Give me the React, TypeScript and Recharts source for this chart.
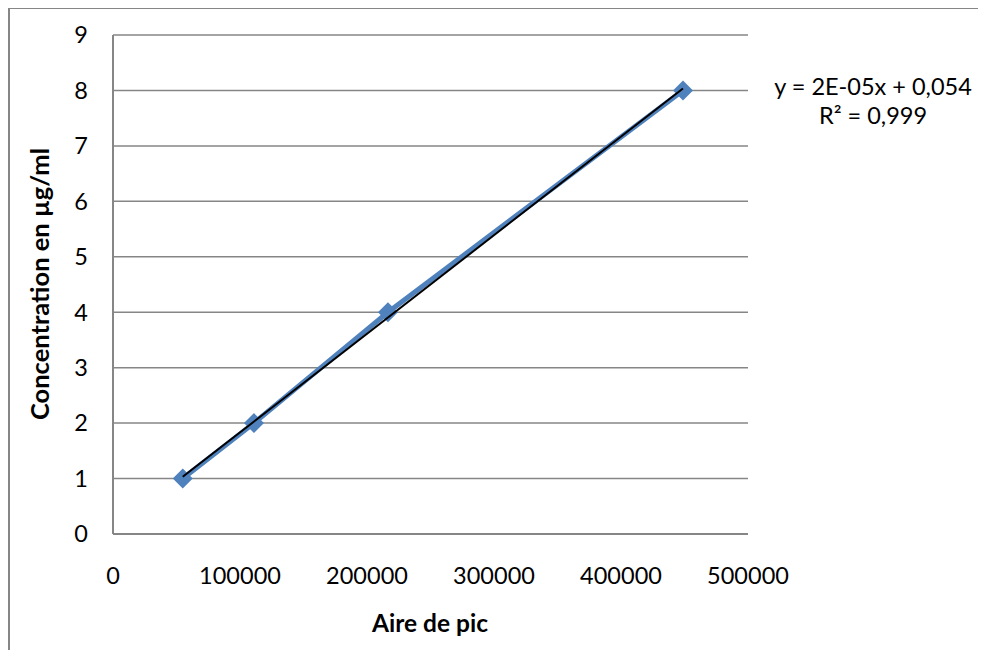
import React from "react";
import {
  ScatterChart,
  Scatter,
  XAxis,
  YAxis,
  CartesianGrid,
} from "recharts";

// points
const aireDePic = [54900, 111000, 216500, 448800];
const concentration = [1, 2, 4, 8];
const xTicks = [0, 100000, 200000, 300000, 400000, 500000];
const yTicks = [0, 1, 2, 3, 4, 5, 6, 7, 8, 9];
const equation = "y = 2E-05x + 0,054";
const rSquared = "R² = 0,999";

const FONT = "Lato, 'Open Sans', sans-serif";
const GRID = "#868686";
const BLUE = "#4F81BD";

const points = aireDePic.map((x, i) => ({ x, y: concentration[i] }));

// linear trendline (least squares), drawn over data range like Excel
function fitLine(xs: number[], ys: number[]) {
  const n = xs.length;
  const mx = xs.reduce((a, b) => a + b, 0) / n;
  const my = ys.reduce((a, b) => a + b, 0) / n;
  let sxy = 0;
  let sxx = 0;
  xs.forEach((x, i) => {
    sxy += (x - mx) * (ys[i] - my);
    sxx += (x - mx) * (x - mx);
  });
  const slope = sxy / sxx;
  const b = my - slope * mx;
  const x0 = Math.min(...xs);
  const x1 = Math.max(...xs);
  return [
    { x: x0, y: slope * x0 + b },
    { x: x1, y: slope * x1 + b },
  ];
}
const trend = fitLine(aireDePic, concentration);

const Diamond = (props: any) => {
  const { cx, cy } = props;
  const r = 10;
  return (
    <path
      d={`M${cx},${cy - r} L${cx + r},${cy} L${cx},${cy + r} L${cx - r},${cy} Z`}
      fill={BLUE}
    />
  );
};

const tickStyle = { fontFamily: FONT, fontSize: 23.5, fill: "#000" };

export default function App() {
  return (
    <div
      style={{
        position: "relative",
        width: 978,
        height: 642,
        overflow: "hidden",
        background: "#fff",
      }}
    >
      <div
        style={{
          position: "absolute",
          left: 0,
          top: -1,
          width: 2000,
          height: 2000,
          borderTop: `2px solid ${GRID}`,
          borderLeft: `2px solid ${GRID}`,
        }}
      />
      <ScatterChart
        width={978}
        height={642}
        margin={{ top: 27, right: 238, left: 0, bottom: 0 }}
      >
        <CartesianGrid
          vertical={false}
          stroke={GRID}
          strokeWidth={1.5}
        />
        <XAxis
          type="number"
          dataKey="x"
          domain={[0, 500000]}
          ticks={xTicks}
          interval={0}
          height={116}
          tickLine={false}
          tickSize={0}
          tickMargin={33}
          axisLine={{ stroke: GRID, strokeWidth: 2 }}
          tick={tickStyle}
          label={{
            content: () => (
              <text
                x={422}
                y={624}
                textAnchor="middle"
                style={{ fontFamily: FONT, fontSize: 24.5, fontWeight: 700 }}
              >
                Aire de pic
              </text>
            ),
          }}
        />
        <YAxis
          type="number"
          dataKey="y"
          domain={[0, 9]}
          ticks={yTicks}
          interval={0}
          width={105}
          tickLine={false}
          tickSize={0}
          tickMargin={25}
          axisLine={{ stroke: GRID, strokeWidth: 2 }}
          tick={tickStyle}
          label={{
            content: () => (
              <text
                x={31}
                y={276}
                transform="rotate(-90 31 276)"
                textAnchor="middle"
                dominantBaseline="central"
                style={{ fontFamily: FONT, fontSize: 25.5, fontWeight: 700 }}
              >
                Concentration en µg/ml
              </text>
            ),
          }}
        />
        <Scatter
          data={points}
          line={{ stroke: BLUE, strokeWidth: 5 }}
          shape={<Diamond />}
          isAnimationActive={false}
        />
        <Scatter
          data={trend}
          line={{ stroke: "#000", strokeWidth: 2 }}
          shape={() => null}
          isAnimationActive={false}
        />
      </ScatterChart>
      <div
        style={{
          position: "absolute",
          left: 765,
          top: 64,
          width: 200,
          textAlign: "center",
          fontFamily: FONT,
          fontSize: 23.5,
          lineHeight: "29px",
          color: "#000",
        }}
      >
        <div>{equation}</div>
        <div>{rSquared}</div>
      </div>
    </div>
  );
}
